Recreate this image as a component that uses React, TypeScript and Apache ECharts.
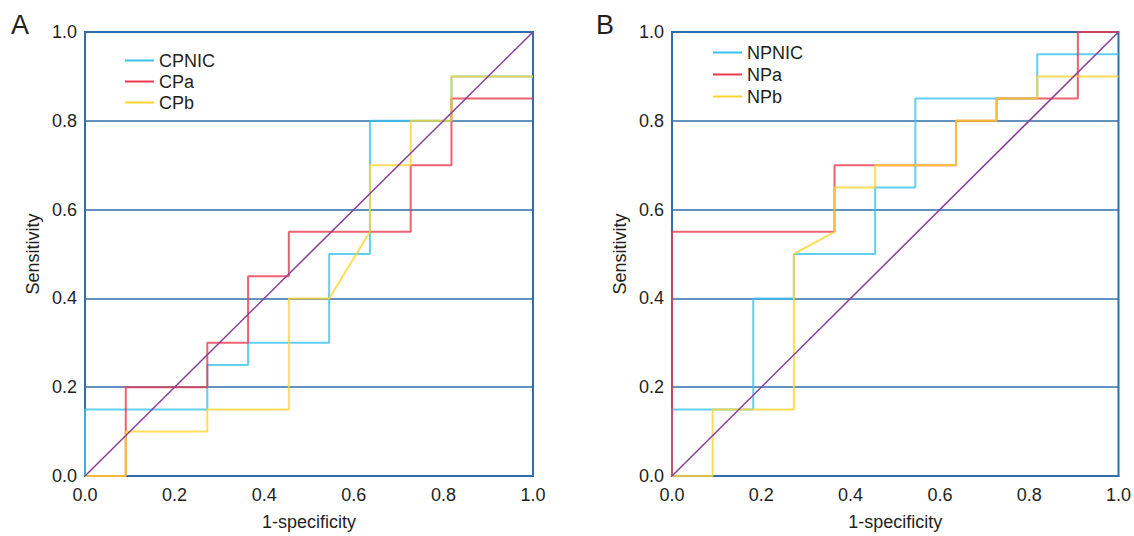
import React, { useEffect, useRef } from "react";
import * as echarts from "echarts";

// Panel A (1-specificity, sensitivity) step points
const CPNIC: number[][] = [[0, 0], [0, 0.15], [0.273, 0.15], [0.273, 0.25], [0.364, 0.25], [0.364, 0.3], [0.545, 0.3], [0.545, 0.5], [0.636, 0.5], [0.636, 0.8], [0.818, 0.8], [0.818, 0.9], [1, 0.9]];
const CPa: number[][] = [[0, 0], [0.091, 0], [0.091, 0.2], [0.273, 0.2], [0.273, 0.3], [0.364, 0.3], [0.364, 0.45], [0.455, 0.45], [0.455, 0.55], [0.727, 0.55], [0.727, 0.7], [0.818, 0.7], [0.818, 0.85], [1, 0.85]];
const CPb: number[][] = [[0, 0], [0.091, 0], [0.091, 0.1], [0.273, 0.1], [0.273, 0.15], [0.455, 0.15], [0.455, 0.4], [0.545, 0.4], [0.636, 0.55], [0.636, 0.7], [0.727, 0.7], [0.727, 0.8], [0.818, 0.8], [0.818, 0.9], [1, 0.9]];

// Panel B
const NPNIC: number[][] = [[0, 0], [0, 0.15], [0.182, 0.15], [0.182, 0.4], [0.273, 0.4], [0.273, 0.5], [0.455, 0.5], [0.455, 0.65], [0.545, 0.65], [0.545, 0.85], [0.818, 0.85], [0.818, 0.95], [1, 0.95]];
const NPa: number[][] = [[0, 0], [0, 0.55], [0.364, 0.55], [0.364, 0.7], [0.636, 0.7], [0.636, 0.8], [0.727, 0.8], [0.727, 0.85], [0.909, 0.85], [0.909, 1], [1, 1]];
const NPb: number[][] = [[0, 0], [0.091, 0], [0.091, 0.15], [0.273, 0.15], [0.273, 0.5], [0.364, 0.55], [0.364, 0.65], [0.455, 0.65], [0.455, 0.7], [0.636, 0.7], [0.636, 0.8], [0.727, 0.8], [0.727, 0.85], [0.818, 0.85], [0.818, 0.9], [1, 0.9]];

const DIAG: number[][] = [[0, 0], [1, 1]];

const TICKS = [0, 0.2, 0.4, 0.6, 0.8, 1.0];
const X_NAME = "1-specificity";
const Y_NAME = "Sensitivity";
const PANEL_LABELS = ["A", "B"];

const COL_CYAN = "#38c3f0";
const COL_RED = "#e83a4c";
const COL_YEL = "#ffd430";
const COL_PURPLE = "#8a3d99";
const COL_GRID = "#2f6ea8";
const TEXT = "#231f20";
const FONT = "Liberation Sans, Arial, sans-serif";

export default function App() {
  const ref = useRef<HTMLDivElement>(null);
  useEffect(() => {
    if (!ref.current) return;
    const chart = echarts.init(ref.current, undefined, { renderer: "svg" });
    const gridDefs = [
      { left: 85, top: 32, width: 448, height: 447 },
      { left: 672, top: 32, width: 448, height: 447 },
    ];
    const xAxes = gridDefs.map((_, i) => ({
      type: "value",
      gridIndex: i,
      min: TICKS[0],
      max: TICKS[TICKS.length - 1],
      interval: 0.2,
      name: X_NAME,
      nameLocation: "middle",
      nameGap: 37,
      nameTextStyle: { fontSize: 18, color: TEXT, fontFamily: FONT },
      axisLine: { show: true, lineStyle: { color: COL_GRID, width: 2 } },
      axisTick: { show: false },
      splitLine: { show: false },
      axisLabel: { fontSize: 18, color: TEXT, fontFamily: FONT, margin: 10, formatter: (v: number) => v.toFixed(1) },
    }));
    const yAxes = gridDefs.map((_, i) => ({
      type: "value",
      gridIndex: i,
      min: TICKS[0],
      max: TICKS[TICKS.length - 1],
      interval: 0.2,
      name: Y_NAME,
      nameLocation: "middle",
      nameGap: 43,
      nameTextStyle: { fontSize: 18, color: TEXT, fontFamily: FONT },
      axisLine: { show: true, lineStyle: { color: COL_GRID, width: 2 } },
      axisTick: { show: false },
      splitLine: { show: true, lineStyle: { color: COL_GRID, width: 1.5 } },
      axisLabel: { fontSize: 18, color: TEXT, fontFamily: FONT, margin: 8, formatter: (v: number) => v.toFixed(1) },
    }));
    const mk = (name: string, data: number[][], color: string, gi: number, w = 2, op = 0.8) => ({
      type: "line",
      name,
      xAxisIndex: gi,
      yAxisIndex: gi,
      data,
      showSymbol: false,
      symbol: "none",
      silent: true,
      lineStyle: { color, width: w, opacity: op },
      itemStyle: { color },
    });
    const legendBase = {
      orient: "vertical",
      padding: 0,
      itemWidth: 29,
      itemHeight: 2,
      itemGap: 0,
      icon: "rect",
      textStyle: { fontSize: 18, color: TEXT, fontFamily: FONT, lineHeight: 21 },
    };
    const option = {
      animation: false,
      grid: gridDefs.map((g) => ({ ...g, show: true, borderColor: COL_GRID, borderWidth: 2, backgroundColor: "transparent" })),
      xAxis: xAxes,
      yAxis: yAxes,
      legend: [
        { ...legendBase, data: ["CPNIC", "CPa", "CPb"], left: 125, top: 50 },
        { ...legendBase, data: ["NPNIC", "NPa", "NPb"], left: 713, top: 42, itemGap: 1 },
      ],
      graphic: [
        { type: "text", left: 11, top: 11, style: { text: PANEL_LABELS[0], fontSize: 27, fill: TEXT, fontFamily: FONT } },
        { type: "text", left: 596, top: 11, style: { text: PANEL_LABELS[1], fontSize: 27, fill: TEXT, fontFamily: FONT } },
      ],
      series: [
        mk("CPNIC", CPNIC, COL_CYAN, 0),
        mk("CPa", CPa, COL_RED, 0),
        mk("CPb", CPb, COL_YEL, 0),
        mk("diagA", DIAG, COL_PURPLE, 0, 1.5, 1),
        mk("NPNIC", NPNIC, COL_CYAN, 1),
        mk("NPa", NPa, COL_RED, 1),
        mk("NPb", NPb, COL_YEL, 1),
        mk("diagB", DIAG, COL_PURPLE, 1, 1.5, 1),
      ],
    };
    chart.setOption(option as any);
    return () => chart.dispose();
  }, []);
  return <div ref={ref} style={{ position: "absolute", left: 0, top: 0, width: 1134, height: 536, background: "#fff" }} />;
}
